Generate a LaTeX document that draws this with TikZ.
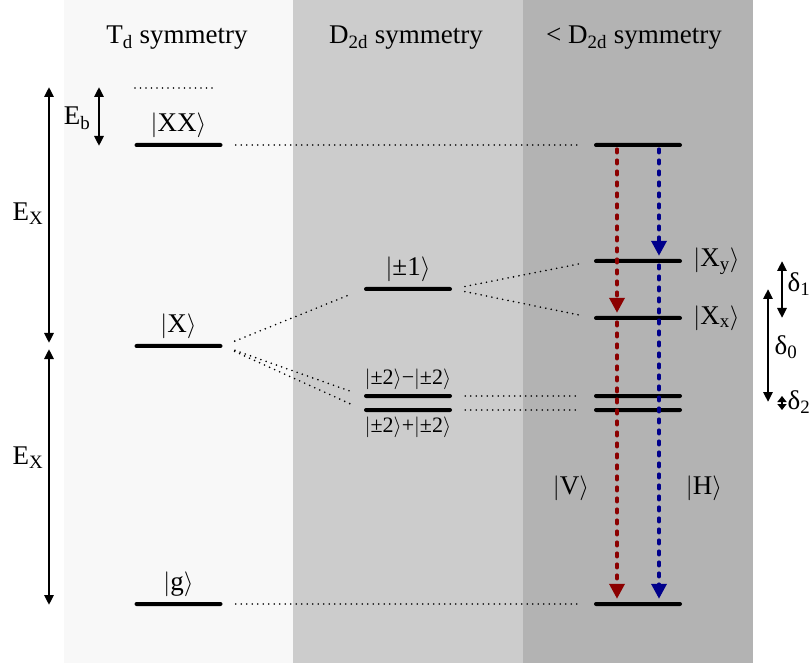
\documentclass[tikz,border=0pt]{standalone}
\usepackage{fontspec}
\setmainfont{Liberation Serif}
\usetikzlibrary{arrows.meta,positioning}
\definecolor{fondoA}{HTML}{F8F8F8}
\definecolor{fondoB}{HTML}{CCCCCC}
\definecolor{fondoC}{HTML}{B3B3B3}
\definecolor{rojo}{HTML}{8B0000}
\definecolor{azul}{HTML}{00008B}
\newcommand{\ket}[1]{$|$#1$\rangle$}

\begin{document}
\begin{tikzpicture}[x=1pt, y=-1pt, line cap=round, line join=round, inner sep=0pt,
    font=\fontsize{27}{32}\selectfont,
    nivel/.style={fill=black, minimum width=88pt, minimum height=4pt, rounded corners=2pt},
    puntos/.style={line width=1.8pt, dash pattern=on 0pt off 5.5pt},
    flecha/.style={line width=2.5pt, {Triangle[length=10pt,width=9pt]}-{Triangle[length=10pt,width=9pt]}},
    flechita/.style={line width=2.5pt, {Triangle[length=6pt,width=9pt]}-{Triangle[length=6pt,width=9pt]}},
    trans/.style={line width=3.5pt, dash pattern=on 3.5pt off 7.5pt,
      -{Triangle[length=15pt,width=15pt]}, shorten <=2pt, shorten >=3pt},
    chico/.style={font=\fontsize{22}{26}\selectfont}]
  \useasboundingbox (0,0) rectangle (812,663);
  % los fondos
  \fill[fondoA] (64,0) rectangle (293,663);
  \fill[fondoB] (293,0) rectangle (523,663);
  \fill[fondoC] (523,0) rectangle (753,663);
  \node[anchor=base] (tTd) at (177,44) {T\textsubscript{d} symmetry};
  \node[anchor=base] (tD) at (406,44) {D\textsubscript{2d} symmetry};
  \node[anchor=base] (tDm) at (634,44) {< D\textsubscript{2d} symmetry};
  % los niveles
  \node[nivel] (XX) at (178.5,145) {};
  \node[nivel] (X) at (178.5,346) {};
  \node[nivel] (g) at (178.5,604) {};
  \node[nivel] (pm1) at (408,289) {};
  \node[nivel] (pm2a) at (408,396) {};
  \node[nivel] (pm2b) at (408,410) {};
  \node[nivel] (XXd) at (638,145) {};
  \node[nivel] (Xy) at (638,261) {};
  \node[nivel] (Xx) at (638,318) {};
  \node[nivel] (Da) at (638,396) {};
  \node[nivel] (Db) at (638,410) {};
  \node[nivel] (gd) at (638,604) {};
  \coordinate (XXol) at (135,88);
  \coordinate (XXor) at (217,88);
  \draw[puntos] (XXol) -- (XXor);
  % los estados
  \node[above=11pt of XX, anchor=base] (kXX) {\ket{XX}};
  \node[above=11pt of X, anchor=base] (kX) {\ket{X}};
  \node[above=11pt of g, anchor=base] (kg) {\ket{g}};
  \node[above=11pt of pm1, anchor=base] (kpm1) {\ket{±1}};
  \node[chico, above=9pt of pm2a, anchor=base] (kpm2a) {\ket{±2}−\ket{±2}};
  \node[chico, below=5pt of pm2b] (kpm2b) {\ket{±2}+\ket{±2}};
  \node[right=11pt of Xy] (kXy) {\ket{X\textsubscript{y}}};
  \node[right=11pt of Xx] (kXx) {\ket{X\textsubscript{x}}};
  \node (kV) at (571,488) {\ket{V}};
  \node (kH) at (704,488) {\ket{H}};
  % las lineas punteadas
  \begin{scope}[puntos, shorten <=13pt, shorten >=15pt]
    \draw (XX.east) -- (XXd.west);
    \draw (X.east) -- (pm1.west);
    \draw (X.east) -- (pm2a.west);
    \draw (X.east) -- (pm2b.west);
    \draw (pm1.east) -- (Xy.west);
    \draw (pm1.east) -- (Xx.west);
    \draw (pm2a.east) -- (Da.west);
    \draw (pm2b.east) -- (Db.west);
    \draw (g.east) -- (gd.west);
  \end{scope}
  % las transiciones
  \coordinate (rx) at (617,0);
  \coordinate (bx) at (659,0);
  \draw[trans, rojo] (XXd.south -| rx) -- (Xx.north -| rx);
  \draw[trans, rojo] (Xx.south -| rx) -- (gd.north -| rx);
  \draw[trans, azul] (XXd.south -| bx) -- (Xy.north -| bx);
  \draw[trans, azul] (Xy.south -| bx) -- (gd.north -| bx);
  % las energias
  \coordinate (ea) at (49,87);
  \coordinate (eb) at (49,343);
  \coordinate (ec) at (49,349);
  \coordinate (ed) at (49,605);
  \coordinate (ba) at (99,87);
  \coordinate (bb) at (99,146);
  \draw[flecha] (ea) -- (eb);
  \draw[flecha] (ec) -- (ed);
  \draw[flecha] (ba) -- (bb);
  \node (lEX1) at (28,214) {E\textsubscript{X}};
  \node (lEX2) at (28,458) {E\textsubscript{X}};
  \node (lEb) at (77,118) {E\textsubscript{b}};
  \coordinate (d1) at (782,0);
  \coordinate (d0) at (768,0);
  \coordinate (d0b) at (768,402);
  \draw[flecha] (Xy -| d1) -- (Xx -| d1);
  \draw[flecha] (pm1 -| d0) -- (d0b);
  \draw[flechita] (Da -| d1) -- (Db -| d1);
  \node (ld1) at (799,284) {δ\textsubscript{1}};
  \node (ld0) at (786,347) {δ\textsubscript{0}};
  \node (ld2) at (799,402) {δ\textsubscript{2}};
\end{tikzpicture}
\end{document}
